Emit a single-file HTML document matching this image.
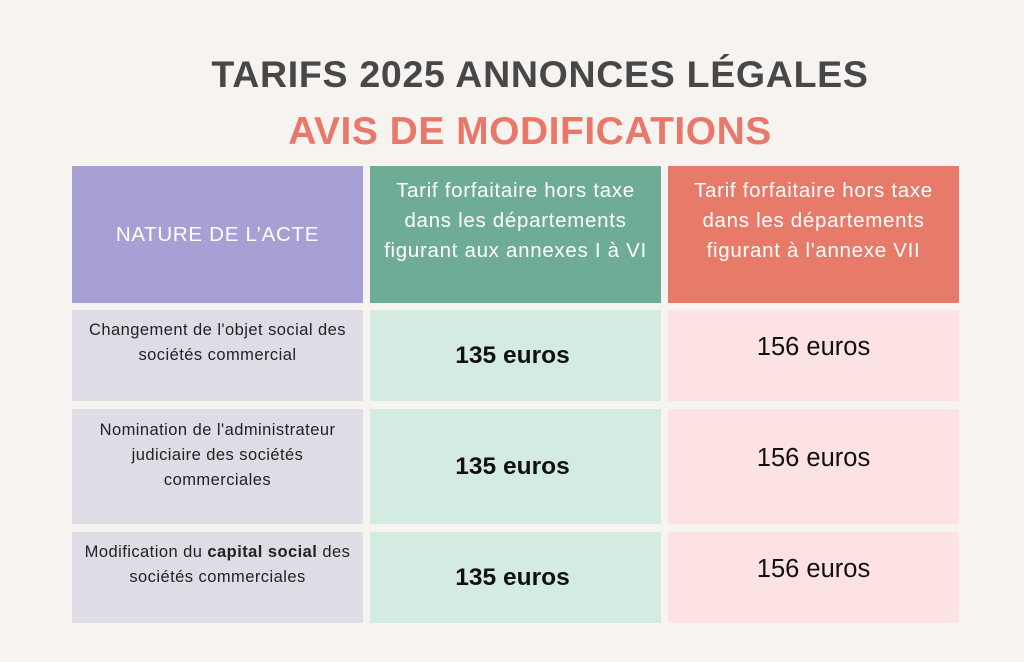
<!DOCTYPE html>
<html><head><meta charset="utf-8"><style>
body{margin:0;width:1024px;height:662px;background:#f6f3f0;font-family:"Liberation Sans",sans-serif;position:relative;overflow:hidden}
.t{position:absolute;left:0;width:1080px;text-align:center;font-weight:bold}
.c{position:absolute;display:flex;align-items:center;justify-content:center;text-align:center;box-sizing:border-box}
.c>div{width:100%}
.h{color:#fff;font-size:20.5px;line-height:30px;letter-spacing:0.7px}
.n{color:#222;font-size:16.5px;line-height:25px;padding:0 2px;letter-spacing:0.45px}
.b{font-weight:bold;font-size:24.5px;color:#111;padding-right:6px}
.r{font-size:25.5px;color:#111}
</style></head><body>
<div class="t" style="top:53px;font-size:37.5px;color:#474747;letter-spacing:0.7px">TARIFS 2025 ANNONCES LÉGALES</div>
<div class="t" style="top:110px;left:-10px;font-size:39px;color:#e8796a;letter-spacing:0.5px">AVIS DE MODIFICATIONS</div>

<div class="c h" style="left:72px;top:166px;width:291px;height:137px;background:#a7a0d5"><div>NATURE DE L’ACTE</div></div>
<div class="c h" style="left:370px;top:166px;width:291px;height:137px;background:#6eac95;align-items:flex-start;padding-top:10px"><div>Tarif forfaitaire hors taxe<br>dans les départements<br>figurant aux annexes I à VI</div></div>
<div class="c h" style="left:668px;top:166px;width:291px;height:137px;background:#e87a6a;align-items:flex-start;padding-top:10px"><div>Tarif forfaitaire hors taxe<br>dans les départements<br>figurant à l'annexe VII</div></div>

<div class="c n" style="left:72px;top:310px;width:291px;height:91px;background:#dedde6;align-items:flex-start;padding-top:8px"><div>Changement de l'objet social des<br>sociétés commercial</div></div>
<div class="c b" style="left:370px;top:310px;width:291px;height:91px;background:#d4ebe2"><div>135 euros</div></div>
<div class="c r" style="left:668px;top:310px;width:291px;height:91px;background:#fde2e3;align-items:flex-start;padding-top:23px"><div>156 euros</div></div>

<div class="c n" style="left:72px;top:409px;width:291px;height:115px;background:#dedde6;align-items:flex-start;padding-top:9px"><div>Nomination de l'administrateur<br>judiciaire des sociétés<br>commerciales</div></div>
<div class="c b" style="left:370px;top:409px;width:291px;height:115px;background:#d4ebe2"><div>135 euros</div></div>
<div class="c r" style="left:668px;top:409px;width:291px;height:115px;background:#fde2e3;align-items:flex-start;padding-top:35px"><div>156 euros</div></div>

<div class="c n" style="left:72px;top:532px;width:291px;height:91px;background:#dedde6;align-items:flex-start;padding-top:8px"><div>Modification du <b>capital social</b> des<br>sociétés commerciales</div></div>
<div class="c b" style="left:370px;top:532px;width:291px;height:91px;background:#d4ebe2"><div>135 euros</div></div>
<div class="c r" style="left:668px;top:532px;width:291px;height:91px;background:#fde2e3;align-items:flex-start;padding-top:23px"><div>156 euros</div></div>
</body></html>
